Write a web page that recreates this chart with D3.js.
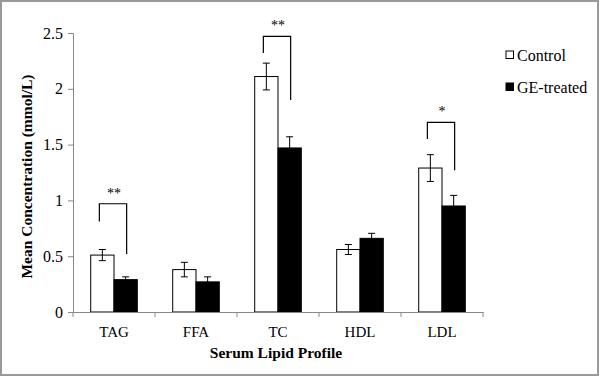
<!DOCTYPE html>
<html>
<head>
<meta charset="utf-8">
<script src="https://cdn.jsdelivr.net/npm/d3@7"></script>
<style>
  body { margin: 0; background: #fff; }
  svg { display: block; font-family: 'Liberation Serif', 'Times New Roman', serif; }
</style>
</head>
<body>
<div id="chart"></div>
<script>
const categories = ['TAG', 'FFA', 'TC', 'HDL', 'LDL']
const groups = ['Control', 'GE-treated']
const controlMeans = [0.51, 0.38, 2.11, 0.56, 1.29]
const controlErrors = [0.05, 0.065, 0.12, 0.045, 0.12]
const treatedMeans = [0.29, 0.27, 1.47, 0.66, 0.95]
const treatedErrors = [0.025, 0.045, 0.1, 0.045, 0.095]
const yTicks = [0, 0.5, 1, 1.5, 2, 2.5]

// significance brackets: top, left end, right end (data units)
const brackets = [
  { cat: 'TAG', label: '**', top: 0.97, left: 0.81, right: 0.52 },
  { cat: 'TC', label: '**', top: 2.47, left: 2.32, right: 1.90 },
  { cat: 'LDL', label: '*', top: 1.70, left: 1.55, right: 1.27 }
]

const width = 600
const height = 377
const margin = { top: 33, right: 117, bottom: 65, left: 73 }
const serif = "'Liberation Serif', 'Times New Roman', serif"

const svg = d3.select('#chart')
  .append('svg')
  .attr('width', width)
  .attr('height', height)

svg.append('rect')
  .attr('x', 1)
  .attr('y', 1)
  .attr('width', 597)
  .attr('height', 374)
  .attr('fill', '#fff')
  .attr('stroke', '#999')
  .attr('stroke-width', 2)

const x = d3.scaleBand()
  .domain(categories)
  .range([margin.left, width - margin.right])

const xInner = d3.scaleBand()
  .domain(groups)
  .range([0, x.bandwidth()])
  .paddingOuter(0.76)

const y = d3.scaleLinear()
  .domain([0, 2.5])
  .range([height - margin.bottom, margin.top])

const rows = categories.map((c, i) => ({
  cat: c,
  values: [
    { group: 'Control', mean: controlMeans[i], err: controlErrors[i] },
    { group: 'GE-treated', mean: treatedMeans[i], err: treatedErrors[i] }
  ]
}))

// y axis
const yAxis = svg.append('g')
  .attr('transform', `translate(${margin.left},0)`)
  .call(d3.axisLeft(y).tickValues(yTicks).tickSize(5).tickPadding(5).tickFormat(d3.format('')))
  .attr('font-family', serif)
yAxis.select('.domain').attr('stroke', '#888')
yAxis.selectAll('.tick line').attr('stroke', '#888')
yAxis.selectAll('text').attr('font-size', 16).attr('fill', '#000')

// bars
const catG = svg.append('g')
  .selectAll('g')
  .data(rows)
  .join('g')
  .attr('transform', d => `translate(${x(d.cat)},0)`)

catG.selectAll('rect')
  .data(d => d.values)
  .join('rect')
  .attr('x', d => xInner(d.group))
  .attr('y', d => y(d.mean))
  .attr('width', xInner.bandwidth())
  .attr('height', d => y(0) - y(d.mean))
  .attr('fill', d => d.group === 'Control' ? '#fff' : '#000')
  .attr('stroke', '#000')
  .attr('stroke-width', 1)

const errG = catG.selectAll('g.err')
  .data(d => d.values)
  .join('g')
  .attr('class', 'err')
  .attr('stroke', '#000')
  .attr('stroke-width', 1)

errG.append('line')
  .attr('x1', d => xInner(d.group) + xInner.bandwidth() / 2)
  .attr('x2', d => xInner(d.group) + xInner.bandwidth() / 2)
  .attr('y1', d => y(d.mean + d.err))
  .attr('y2', d => y(d.mean - d.err))

errG.selectAll('line.cap')
  .data(d => [d.mean + d.err, d.mean - d.err].map(v => ({ v, group: d.group })))
  .join('line')
  .attr('class', 'cap')
  .attr('x1', d => xInner(d.group) + xInner.bandwidth() / 2 - 3.5)
  .attr('x2', d => xInner(d.group) + xInner.bandwidth() / 2 + 3.5)
  .attr('y1', d => y(d.v))
  .attr('y2', d => y(d.v))

// x axis
const xAxis = svg.append('g')
  .attr('transform', `translate(0,${y(0)})`)
  .call(d3.axisBottom(x).tickSize(0).tickPadding(14))
  .attr('font-family', serif)
xAxis.select('.domain').attr('stroke', '#888')
xAxis.selectAll('text').attr('font-size', 15).attr('fill', '#000')

svg.append('g')
  .selectAll('line')
  .data(d3.range(categories.length + 1))
  .join('line')
  .attr('x1', i => margin.left + i * x.step())
  .attr('x2', i => margin.left + i * x.step())
  .attr('y1', y(0))
  .attr('y2', y(0) + 5)
  .attr('stroke', '#888')

// significance brackets
const bG = svg.append('g')
  .selectAll('g')
  .data(brackets)
  .join('g')
  .attr('transform', d => `translate(${x(d.cat)},0)`)

bG.append('path')
  .attr('fill', 'none')
  .attr('stroke', '#000')
  .attr('stroke-width', 1.2)
  .attr('d', d => {
    const xl = xInner('Control') + xInner.bandwidth() / 2 - 3
    const xr = xInner('GE-treated') + xInner.bandwidth() / 2 + 1
    return `M${xl},${y(d.left)}V${y(d.top)}H${xr}V${y(d.right)}`
  })

bG.append('text')
  .attr('x', x.bandwidth() / 2)
  .attr('y', d => y(d.top) - 6)
  .attr('text-anchor', 'middle')
  .attr('font-size', 14)
  .attr('fill', '#000')
  .text(d => d.label)

// axis titles
svg.append('text')
  .attr('x', 276)
  .attr('y', 358)
  .attr('text-anchor', 'middle')
  .attr('font-size', 15.5)
  .attr('font-weight', 'bold')
  .text('Serum Lipid Profile')

svg.append('text')
  .attr('transform', `translate(32,${(margin.top + y(0)) / 2 + 4}) rotate(-90)`)
  .attr('text-anchor', 'middle')
  .attr('font-size', 15.5)
  .attr('font-weight', 'bold')
  .text('Mean Concentration (mmol/L)')

// legend
const legend = svg.append('g')
  .attr('transform', 'translate(506,51)')

legend.selectAll('g')
  .data(groups)
  .join('g')
  .attr('transform', (d, i) => `translate(0,${i * 32})`)
  .call(g => {
    g.append('rect')
      .attr('width', 7.5)
      .attr('height', 7.5)
      .attr('fill', d => d === 'Control' ? '#fff' : '#000')
      .attr('stroke', '#000')
      .attr('stroke-width', 1)
    g.append('text')
      .attr('x', 11)
      .attr('y', 10)
      .attr('font-size', 16)
      .text(d => d)
  })
</script>
</body>
</html>
